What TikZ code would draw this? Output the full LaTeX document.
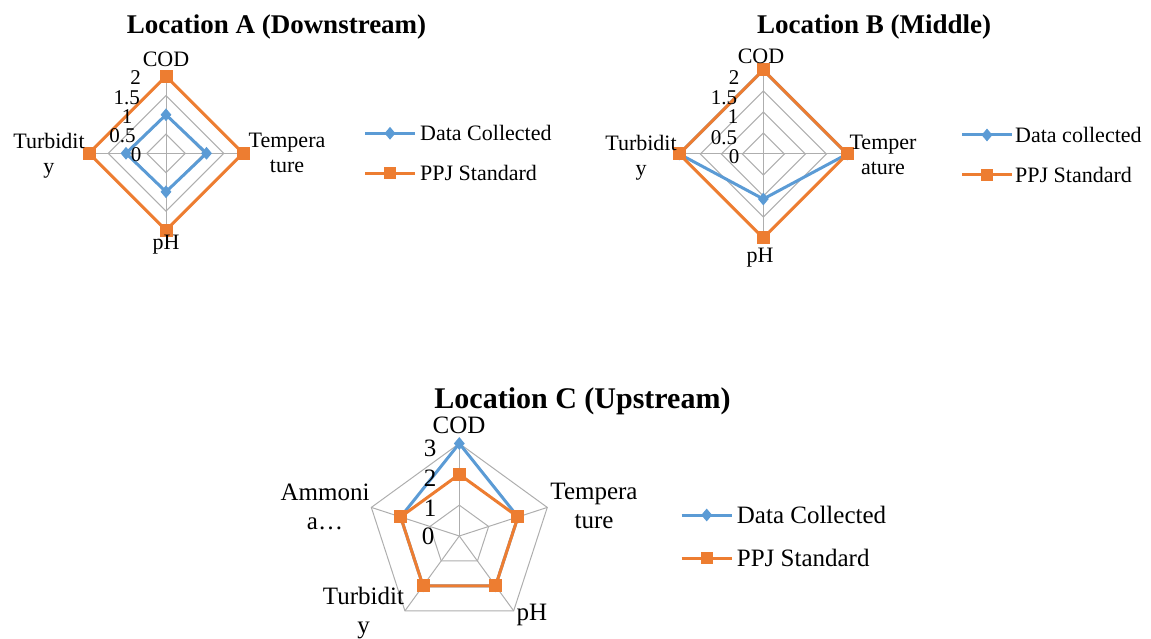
\documentclass[tikz,border=0pt]{standalone}
\usepackage{fontspec}
\setmainfont{Liberation Serif}
\usetikzlibrary{shapes.geometric}
\definecolor{cblue}{HTML}{5B9BD5}
\definecolor{corange}{HTML}{ED7D31}
\definecolor{cgrid}{HTML}{AEAEAE}
\newcommand\lblA{\fontsize{22}{25}\selectfont}
\newcommand\tckA{\fontsize{21}{24}\selectfont}
\newcommand\lblC{\fontsize{25}{29}\selectfont}
\newcommand\ttlA{\fontsize{27}{32}\selectfont\bfseries}
\newcommand\ttlC{\fontsize{30}{36}\selectfont\bfseries}
\tikzset{
  gridl/.style={draw=cgrid, line width=1pt},
  blueline/.style={draw=cblue, line width=3pt, line join=round},
  orangeline/.style={draw=corange, line width=3pt, line join=round},
  smark/.style={rectangle, fill=corange, minimum size=13pt, inner sep=0pt},
  dmark/.style={diamond, fill=cblue, minimum width=11pt, minimum height=13pt, inner sep=0pt},
  labA/.style={font=\lblA, inner sep=0pt},
  tickA/.style={font=\tckA, inner sep=0pt},
  labC/.style={font=\lblC, inner sep=0pt},
  titA/.style={font=\ttlA, inner sep=0pt, anchor=base},
  titC/.style={font=\ttlC, inner sep=0pt, anchor=base},
}
\begin{document}
\begin{tikzpicture}[x=1pt,y=1pt]
\useasboundingbox (0,0) rectangle (1151,638);

% ================= Chart A =================
\node[titA] (titleA) at (276.5,604.7) {Location A (Downstream)};
\begin{scope}[shift={(166,484.7)}]
  \foreach \r in {19.25,38.5,57.75,77}
    \draw[gridl] (90:\r)--(0:\r)--(270:\r)--(180:\r)--cycle;
  \foreach \a in {0,90,180,270}
    \draw[gridl] (0,0)--(\a:77);
  \coordinate (aB1) at (90:38.5);
  \coordinate (aB2) at (0:40.5);
  \coordinate (aB3) at (270:38.5);
  \coordinate (aB4) at (180:40);
  \draw[blueline] (aB1)--(aB2)--(aB3)--(aB4)--cycle;
  \foreach \p in {aB1,aB2,aB3,aB4} \node[dmark] at (\p) {};
  \coordinate (aO1) at (90:77);
  \coordinate (aO2) at (0:77);
  \coordinate (aO3) at (270:77);
  \coordinate (aO4) at (180:77);
  \draw[orangeline] (aO1)--(aO2)--(aO3)--(aO4)--cycle;
  \foreach \p in {aO1,aO2,aO3,aO4} \node[smark] at (\p) {};
\end{scope}
\node[tickA] (aT2) at (135.5,560) {2};
\node[tickA] (aT15) at (126.7,540.5) {1.5};
\node[tickA] (aT1) at (127,521) {1};
\node[tickA] (aT05) at (122.5,502.5) {0.5};
\node[tickA] (aT0) at (136,483) {0};
\node[labA, anchor=base] (aCOD) at (166,571.3) {COD};
\node[labA, anchor=base] (apH) at (166,388) {pH};
\node[labA, align=center, anchor=north] (aTemp) at (287,505) {Tempera\\ture};
\node[labA, align=center, anchor=north] (aTurb) at (49,505) {Turbidit\\y};
% legend A
\coordinate (aL1s) at (365,504.7); \coordinate (aL1e) at (415,504.7);
\coordinate (aL2s) at (365,464.7); \coordinate (aL2e) at (415,464.7);
\draw[blueline] (aL1s)--(aL1e);
\node[dmark] (aLm1) at (390,504.7) {};
\draw[orangeline] (aL2s)--(aL2e);
\node[smark, minimum size=12pt] (aLm2) at (390,464.7) {};
\node[labA, anchor=base west] (aLt1) at (420,497.4) {Data Collected};
\node[labA, anchor=base west] (aLt2) at (420,457.4) {PPJ Standard};

% ================= Chart B =================
\node[titA] (titleB) at (874,604.7) {Location B (Middle)};
\begin{scope}[shift={(763.3,484)}]
  \foreach \r in {21,42,63,84}
    \draw[gridl] (90:\r)--(0:\r)--(270:\r)--(180:\r)--cycle;
  \foreach \a in {0,90,180,270}
    \draw[gridl] (0,0)--(\a:84);
  \coordinate (bB1) at (90:84);
  \coordinate (bB2) at (0:84);
  \coordinate (bB3) at (270:45);
  \coordinate (bB4) at (180:84);
  \draw[blueline] (bB1)--(bB2)--(bB3)--(bB4)--cycle;
  \foreach \p in {bB1,bB2,bB3,bB4} \node[dmark] at (\p) {};
  \coordinate (bO1) at (90:84);
  \coordinate (bO2) at (0:84);
  \coordinate (bO3) at (270:84);
  \coordinate (bO4) at (180:84);
  \draw[orangeline] (bO1)--(bO2)--(bO3)--(bO4)--cycle;
  \foreach \p in {bO1,bO2,bO3,bO4} \node[smark] at (\p) {};
\end{scope}
\node[tickA] (bT2) at (734,560.5) {2};
\node[tickA] (bT15) at (724,540.5) {1.5};
\node[tickA] (bT1) at (733,521) {1};
\node[tickA] (bT05) at (724,500.5) {0.5};
\node[tickA] (bT0) at (734,481.3) {0};
\node[labA, anchor=base] (bCOD) at (761,574.7) {COD};
\node[labA, anchor=base] (bpH) at (760,375) {pH};
\node[labA, align=center, anchor=north] (bTemp) at (883,503) {Temper\\ature};
\node[labA, align=center, anchor=north] (bTurb) at (641,503) {Turbidit\\y};
% legend B
\coordinate (bL1s) at (962,503); \coordinate (bL1e) at (1012,503);
\coordinate (bL2s) at (962,463); \coordinate (bL2e) at (1012,463);
\draw[blueline] (bL1s)--(bL1e);
\node[dmark] (bLm1) at (987,503) {};
\draw[orangeline] (bL2s)--(bL2e);
\node[smark, minimum size=12pt] (bLm2) at (987,463) {};
\node[labA, anchor=base west] (bLt1) at (1015,495.7) {Data collected};
\node[labA, anchor=base west] (bLt2) at (1015,455.7) {PPJ Standard};

% ================= Chart C =================
\node[titC] (titleC) at (582.5,229.7) {Location C (Upstream)};
\begin{scope}[shift={(459.3,102)}]
  \foreach \r in {30.83,61.67,92.5}
    \draw[gridl] (90:\r)--(18:\r)--(-54:\r)--(-126:\r)--(162:\r)--cycle;
  \foreach \a in {90,18,-54,-126,162}
    \draw[gridl] (0,0)--(\a:92.5);
  \coordinate (cB1) at (90:92.5);
  \coordinate (cB2) at (18:61.67);
  \coordinate (cB3) at (-54:61.67);
  \coordinate (cB4) at (-126:61.67);
  \coordinate (cB5) at (162:61.67);
  \draw[blueline] (cB1)--(cB2)--(cB3)--(cB4)--(cB5)--cycle;
  \foreach \p in {cB1,cB2,cB3,cB4,cB5} \node[dmark] at (\p) {};
  \coordinate (cO1) at (90:61.67);
  \coordinate (cO2) at (18:61.67);
  \coordinate (cO3) at (-54:61.67);
  \coordinate (cO4) at (-126:61.67);
  \coordinate (cO5) at (162:61.67);
  \draw[orangeline] (cO1)--(cO2)--(cO3)--(cO4)--(cO5)--cycle;
  \foreach \p in {cO1,cO2,cO3,cO4,cO5} \node[smark] at (\p) {};
\end{scope}
\node[labC] (cT3) at (430,189.7) {3};
\node[labC] (cT2) at (430,160) {2};
\node[labC] (cT1) at (430,130) {1};
\node[labC] (cT0) at (428,101.3) {0};
\node[labC, anchor=base] (cCOD) at (459,205) {COD};
\node[labC, anchor=base] (cpH) at (532,18) {pH};
\node[labC, align=center, anchor=north] (cTemp) at (594,154.7) {Tempera\\ture};
\node[labC, align=center, anchor=north] (cAmm) at (325,154.7) {Ammoni\\a…};
\node[labC, align=center, anchor=north] (cTurb) at (363.5,51.5) {Turbidit\\y};
% legend C
\coordinate (cL1s) at (681.7,123); \coordinate (cL1e) at (731.7,123);
\coordinate (cL2s) at (681.7,79.7); \coordinate (cL2e) at (731.7,79.7);
\draw[blueline] (cL1s)--(cL1e);
\node[dmark] (cLm1) at (706.7,123) {};
\draw[orangeline] (cL2s)--(cL2e);
\node[smark, minimum size=12pt] (cLm2) at (706.7,79.7) {};
\node[labC, anchor=base west] (cLt1) at (736.7,114.7) {Data Collected};
\node[labC, anchor=base west] (cLt2) at (736.7,71.4) {PPJ Standard};
\end{tikzpicture}
\end{document}
